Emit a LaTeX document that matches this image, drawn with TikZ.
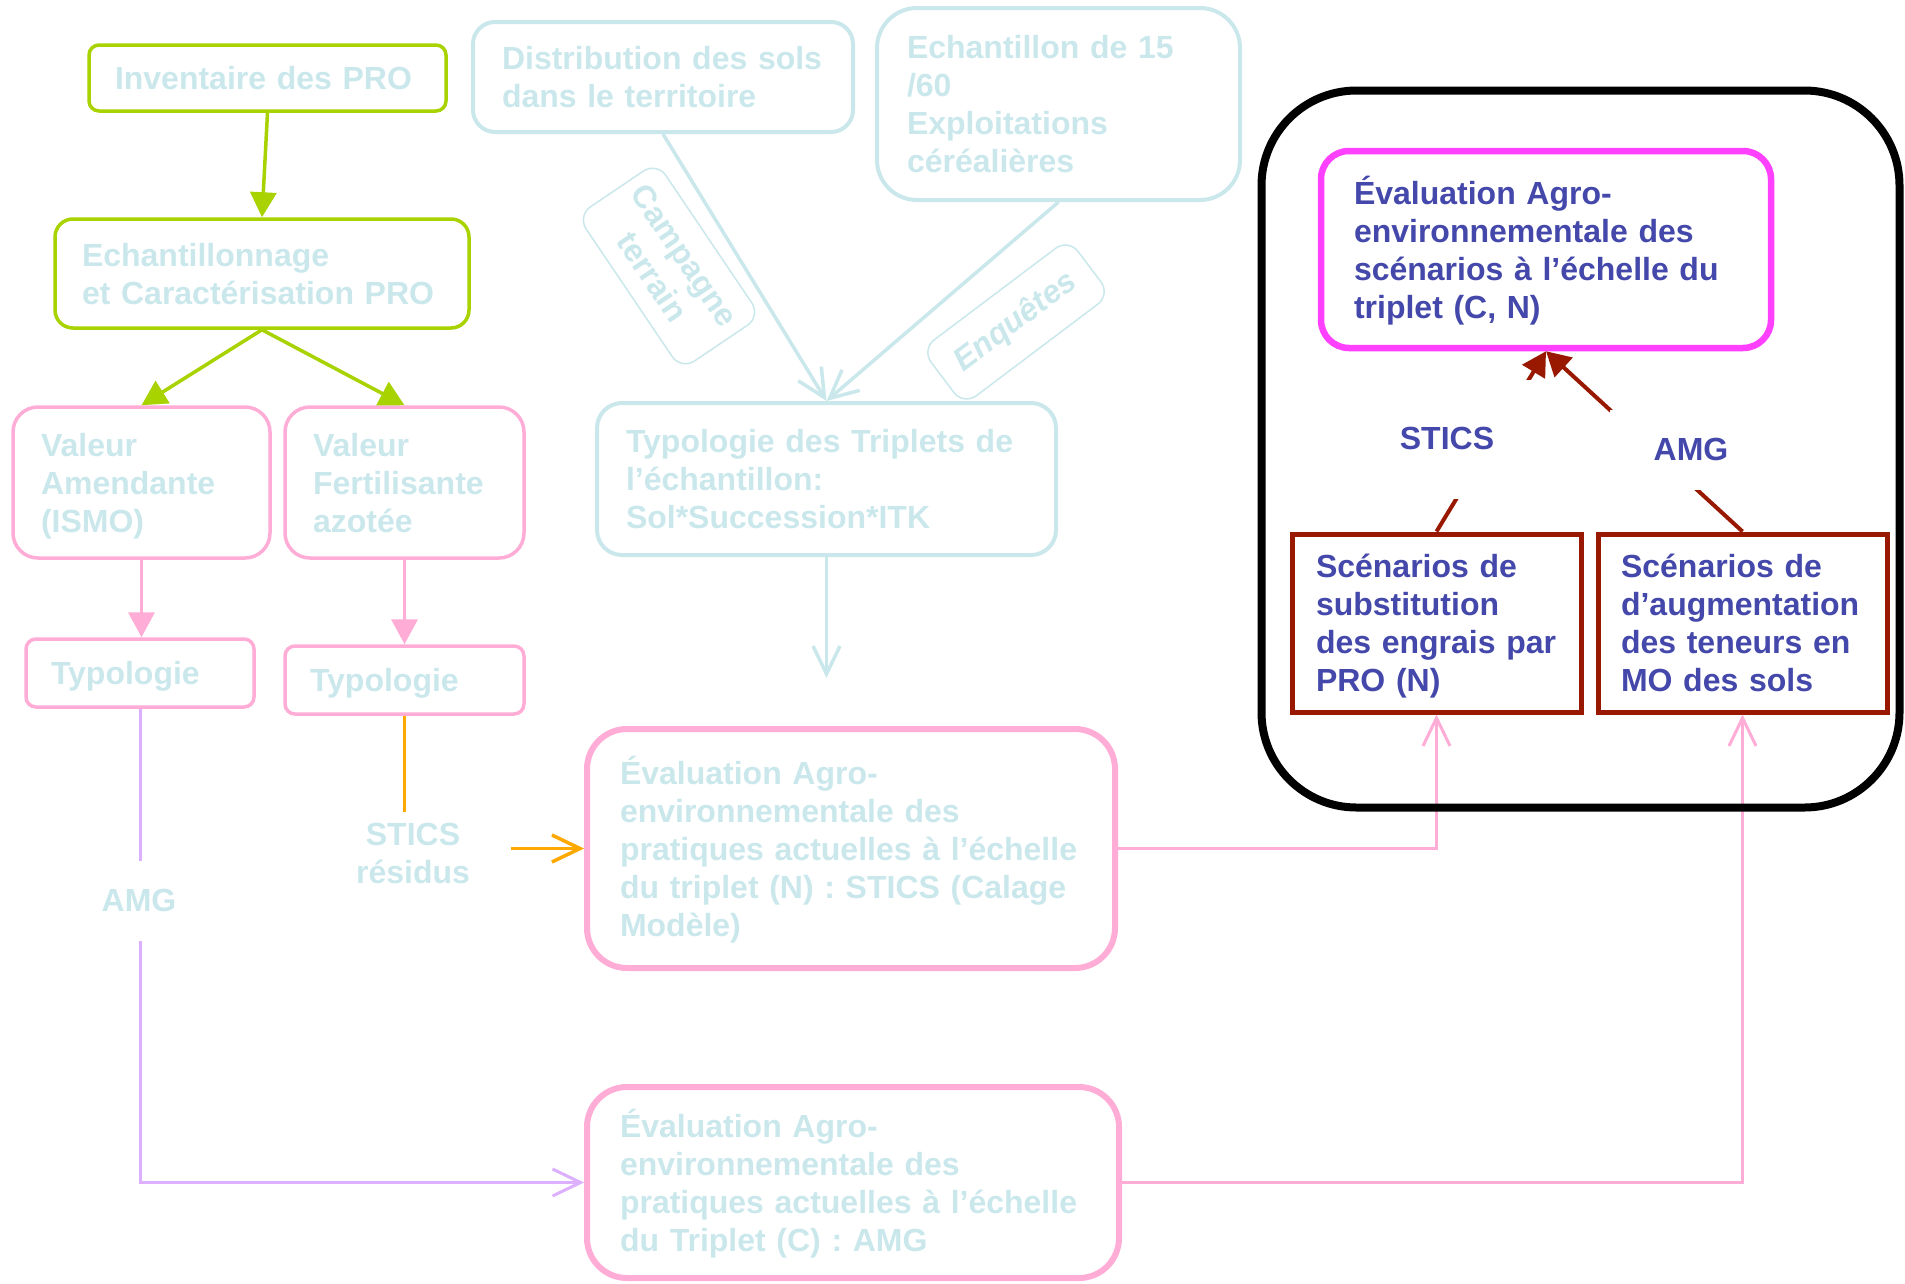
\documentclass[tikz,border=0pt]{standalone}
\usepackage{fontspec}
\setmainfont{Liberation Sans}
\usetikzlibrary{arrows.meta,calc}
\definecolor{cy}{RGB}{202,232,236}
\definecolor{grn}{RGB}{168,210,0}
\definecolor{pnk}{RGB}{255,172,214}
\definecolor{mgt}{RGB}{255,64,255}
\definecolor{dred}{RGB}{152,24,0}
\definecolor{tblue}{RGB}{68,72,170}
\definecolor{purp}{RGB}{221,176,255}
\definecolor{orng}{RGB}{255,168,0}
\newcommand{\mkln}[1]{\mbox{\rule[-7.5pt]{0pt}{38pt}#1}}
\begin{document}
\begin{tikzpicture}[x=1pt,y=-1pt,
  every node/.style={font=\bfseries\fontsize{32}{38}\selectfont},
  box/.style={draw, align=left, inner ysep=0pt, anchor=center},
  greenbox/.style={box, draw=grn, line width=3.5pt, text=cy},
  cyanbox/.style={box, draw=cy, line width=4pt, text=cy},
  pinkbox/.style={box, draw=pnk, line width=3.5pt, text=cy},
  evalbox/.style={box, draw=pnk, line width=6pt, text=cy, rounded corners=40pt},
  scenbox/.style={box, draw=dred, line width=5pt, text=tblue},
  tagbox/.style={draw=cy, line width=1.5pt, text=cy, align=center, inner sep=0pt, rounded corners=16pt},
  cover/.style={fill=white, inner sep=0pt, anchor=base},
  solidtip/.style={-{Triangle[length=25pt,width=26pt]}},
  opentip/.style={-{Straight Barb[length=28pt,width=27pt]}}
]
\fill[white] (0,0) rectangle (1905,1283);
\useasboundingbox (0,0) rectangle (1905,1283);

% ---- left column ----
\node[greenbox, rounded corners=10pt, minimum width=357pt, minimum height=66pt, inner xsep=26pt, text width=305pt] (inv) at (267.5,78) {\mkln{Inventaire des PRO}};
\node[greenbox, rounded corners=18pt, minimum width=414pt, minimum height=109pt, inner xsep=27pt, text width=360pt] (ech) at (262,273.5) {\mkln{Echantillonnage}\\\mkln{et Caractérisation PRO}};
\node[pinkbox, rounded corners=25pt, minimum width=257pt, minimum height=151pt, inner xsep=28pt, text width=201pt] (va) at (141.5,482.5) {\mkln{Valeur}\\\mkln{Amendante}\\\mkln{(ISMO)}};
\node[pinkbox, rounded corners=25pt, minimum width=239pt, minimum height=151pt, inner xsep=28pt, text width=183pt] (vf) at (404.5,482.5) {\mkln{Valeur}\\\mkln{Fertilisante}\\\mkln{azotée}};
\node[pinkbox, rounded corners=10pt, minimum width=228pt, minimum height=68pt, inner xsep=25pt, text width=178pt] (ty1) at (140,673) {\mkln{Typologie}};
\node[pinkbox, rounded corners=10pt, minimum width=239pt, minimum height=68pt, inner xsep=25pt, text width=189pt] (ty2) at (404.5,680) {\mkln{Typologie}};

% ---- middle column ----
\node[cyanbox, rounded corners=22pt, minimum width=380pt, minimum height=110pt, inner xsep=29pt, text width=322pt] (dist) at (663,77) {\mkln{Distribution des sols}\\\mkln{dans le territoire}};
\node[cyanbox, rounded corners=40pt, minimum width=363pt, minimum height=192pt, inner xsep=30pt, text width=303pt] (echt) at (1058.5,104) {\mkln{Echantillon de 15}\\\mkln{/60}\\\mkln{Exploitations}\\\mkln{céréalières}};
\node[cyanbox, rounded corners=25pt, minimum width=459pt, minimum height=152pt, inner xsep=29pt, text width=401pt] (tt) at (826.5,479) {\mkln{Typologie des Triplets de}\\\mkln{l’échantillon:}\\\mkln{Sol*Succession*ITK}};
\node[evalbox, minimum width=528pt, minimum height=239pt, inner xsep=33pt, text width=462pt] (en) at (851,848.5) {\mkln{Évaluation Agro-}\\\mkln{environnementale des}\\\mkln{pratiques actuelles à l’échelle}\\\mkln{du triplet (N) : STICS (Calage}\\\mkln{Modèle)}};
\node[evalbox, minimum width=532pt, minimum height=191pt, inner xsep=33pt, text width=466pt] (ec) at (853,1182.5) {\mkln{Évaluation Agro-}\\\mkln{environnementale des}\\\mkln{pratiques actuelles à l’échelle}\\\mkln{du Triplet (C) : AMG}};
\coordinate (ttend) at (826.5,678);

\node[tagbox, rotate=-56, minimum width=186pt, minimum height=96pt] (camp) at (669,266) {\mkln{Campagne}\\\mkln{terrain}};
\node[tagbox, rotate=37, minimum width=184pt, minimum height=70pt, font=\bfseries\itshape\fontsize{32}{38}\selectfont] (enq) at (1016,322) {Enquêtes};

% ---- right block ----
\node[box, draw=mgt, line width=6.5pt, text=tblue, rounded corners=28pt, minimum width=450pt, minimum height=197pt, inner xsep=33pt, text width=384pt] (mag) at (1546,249.5) {\mkln{Évaluation Agro-}\\\mkln{environnementale des}\\\mkln{scénarios à l’échelle du}\\\mkln{triplet (C, N)}};
\node[scenbox, minimum width=289pt, minimum height=178pt, inner xsep=24pt, text width=241pt] (sc1) at (1436.5,623) {\mkln{Scénarios de}\\\mkln{substitution}\\\mkln{des engrais par}\\\mkln{PRO (N)}};
\node[scenbox, minimum width=289pt, minimum height=178pt, inner xsep=23pt, text width=243pt] (sc2) at (1742.5,623) {\mkln{Scénarios de}\\\mkln{d’augmentation}\\\mkln{des teneurs en}\\\mkln{MO des sols}};

% ---- connectors ----
\draw[grn, line width=3.5pt, solidtip] (inv.south) -- (ech.north);
\draw[grn, line width=3.5pt, solidtip] (ech.south) -- (va.north);
\draw[grn, line width=3.5pt, solidtip] (ech.south) -- (vf.north);
\draw[pnk, line width=3.5pt, solidtip] (va.south) -- (va.south |- ty1.north);
\draw[pnk, line width=3.5pt, solidtip] (vf.south) -- (vf.south |- ty2.north);

\draw[cy, line width=3.5pt, opentip] (dist.south) -- (tt.north);
\draw[cy, line width=3.5pt, opentip] (echt.south) -- (tt.north);
\draw[cy, line width=3.5pt, opentip] (tt.south) -- (ttend);

\draw[orng, line width=3.5pt, opentip] (ty2.south) |- (en.west);
\draw[purp, line width=3pt, opentip] (ty1.south) |- (ec.west);
\draw[pnk, line width=3pt, opentip] (en.east) -| (sc1.south);
\draw[pnk, line width=3pt, opentip] (ec.east) -| (sc2.south);

\draw[dred, line width=4pt, -{Triangle[length=24pt,width=26pt]}] (sc1.north) -- (mag.south);
\draw[dred, line width=4pt, -{Triangle[length=24pt,width=26pt]}] (sc2.north) -- (mag.south);

% ---- connector labels ----
\node[cover, text=cy, align=center, anchor=north, inner ysep=2.5pt, minimum width=196pt] (lstics) at (413,812) {\mkln{STICS}\\\mkln{résidus}};
\node[cover, text=cy, text height=50pt, text depth=30pt, minimum width=100pt] (lamg) at (139,911) {AMG};
\node[cover, text=tblue, text height=69pt, text depth=50pt, minimum width=176pt] (rstics) at (1447,449) {STICS};
\node[cover, text=tblue, text height=50pt, text depth=30pt, minimum width=162pt] (ramg) at (1691,460) {AMG};

% ---- frame ----
\node[draw=black, line width=8pt, rounded corners=95pt, minimum width=638pt, minimum height=717pt, inner sep=0pt] (frame) at (1580.5,449) {};
\end{tikzpicture}
\end{document}
